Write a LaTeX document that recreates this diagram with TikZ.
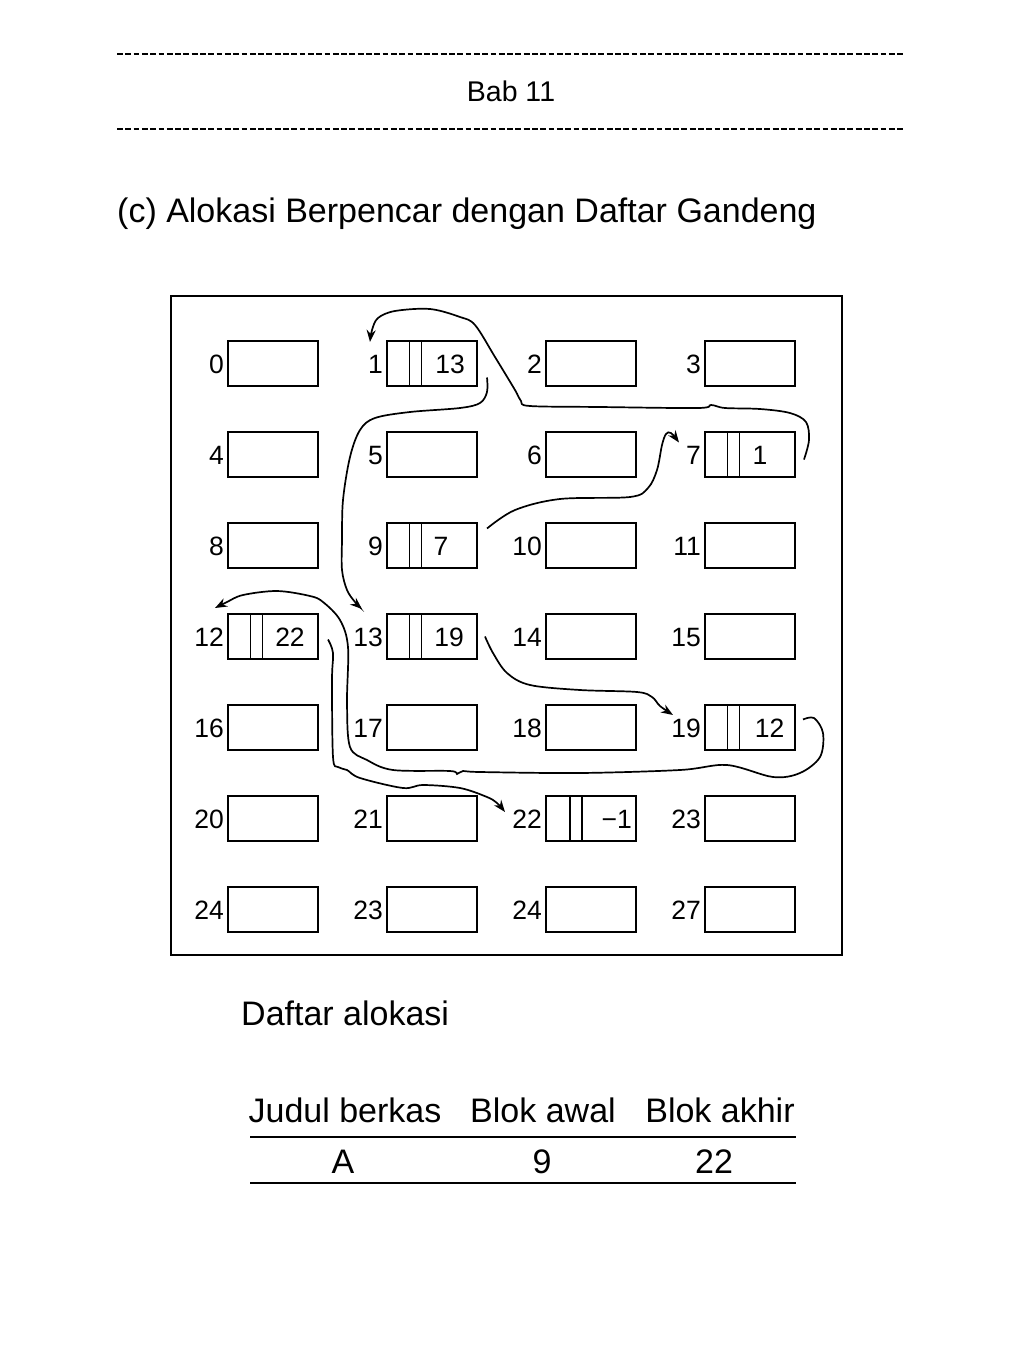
\documentclass[tikz,border=0pt]{standalone}
\usepackage{fontspec}
\setmainfont{Liberation Sans}
\usetikzlibrary{arrows.meta,calc}
\begin{document}
\begin{tikzpicture}[x=1pt,y=-1pt,
  blk/.style={draw,line width=1.2pt,minimum width=90pt,minimum height=45pt,inner sep=0pt,outer sep=0pt},
  num/.style={font=\fontsize{26.5}{30}\selectfont,inner sep=0pt,anchor=east,text height=19pt,text depth=0pt},
  val/.style={font=\fontsize{26.5}{30}\selectfont,inner sep=0pt,text height=19pt,text depth=0pt},
  divider/.style={line width=1.2pt},
  link/.style={line width=1.7pt,-{Stealth[length=12pt,width=9pt]}},
  rulebar/.style={line width=2.8pt,dash pattern=on 5.8pt off 2.5pt},
  tab/.style={font=\fontsize{34}{40}\selectfont,inner sep=0pt,anchor=base},
  hline/.style={line width=1.3pt}]
\useasboundingbox (0,0) rectangle (1024,1365);

% header
\draw[rulebar] (117,54) -- (904,54);
\node[anchor=base,font=\fontsize{28.5}{34}\selectfont,inner sep=0pt] (bab) at (511,101) {Bab 11};
\draw[rulebar] (117,129) -- (904,129);
\node[anchor=base west,font=\fontsize{34}{40}\selectfont,inner sep=0pt] (title) at (117,222) {(c) Alokasi Berpencar dengan Daftar Gandeng};

% frame
\draw[line width=1.2pt] (171,296) rectangle (842,955);

% blocks
\foreach \lab [count=\i from 0] in {0,1,2,3,4,5,6,7,8,9,10,11,12,13,14,15,16,17,18,19,20,21,22,23,24,23,24,27} {
  \pgfmathtruncatemacro\r{\i/4}
  \pgfmathtruncatemacro\c{mod(\i,4)}
  \node[blk] (b\i) at (273+159*\c, 363.5+91*\r) {};
  \node[num] (n\i) at ([xshift=-4pt]b\i.west) {\lab};
}

% split blocks with pointer
\foreach \i/\v/\off in {1/13/63,7/1/55,9/7/54,12/22/62,13/19/62,19/12/64.5} {
  \draw[divider] ([xshift=22.5pt]b\i.north west) -- ([xshift=22.5pt]b\i.south west);
  \draw[divider] ([xshift=34.5pt]b\i.north west) -- ([xshift=34.5pt]b\i.south west);
  \node[val] (v\i) at ([xshift=\off pt]b\i.west) {\v};
}
\draw[divider] ([xshift=24pt]b22.north west) -- ([xshift=24pt]b22.south west);
\draw[divider] ([xshift=36pt]b22.north west) -- ([xshift=36pt]b22.south west);
\node[val,anchor=east] (v22) at ([xshift=-4pt]b22.east) {−1};

% links
% 9 -> 7
\draw[link] plot[smooth,tension=0.55] coordinates {([shift={(10,-17)}]b9.east) (515,510) (560,499) (630,497) (648,488) (657,470) (662,445) (666,434) (671,433) ([shift={(-26,-12)}]b7.west)};
% 7 -> 1
\draw[link] plot[smooth,tension=0.55] coordinates {([shift={(9,5)}]b7.east) (809,440) (806,422) (790,413) (760,409) (725,408) (711,405) (698,408) (600,407) (530,406) (521,401) (515,390) (495,357) (475,325) (460,317) (430,309) (395,311) (378,318) (372,330) ([shift={(-17,1)}]b1.north west)};
% 1 -> 13
\draw[link] plot[smooth,tension=0.55] coordinates {([shift={(10,14)}]b1.east) (487,392) (480,403) (460,408) (410,412) (375,418) (360,430) (350,457) (343,500) (342,540) (342,570) (347,590) (355,602) ([shift={(-25,-5)}]b13.north west)};
% 13 -> 19
\draw[link] plot[smooth,tension=0.55] coordinates {([shift={(8,0)}]b13.east) (493,653) (507,673) (530,685) (580,690) (637,692) (652,697) (660,706) ([shift={(-32,-12.5)}]b19.west)};
% 19 -> 12
\draw[link] plot[smooth,tension=0.55] coordinates {([shift={(8,-8)}]b19.east) (814,718) (823,733) (820,757) (800,773) (773,777) (727,765) (680,770) (580,773) (480,772) (463,771) (457,774) (450,771) (393,770) (367,760) (350,747) (347,703) (348,647) (340,620) (323,602) (310,596) (277,591) (243,595) (227,602) ([shift={(-13,-6)}]b12.north west)};
% 12 -> 22
\draw[link] plot[smooth,tension=0.55] coordinates {([shift={(10,3)}]b12.east) (333,653) (332,680) (333,757) (338,767) (347,770) (360,778) (403,788) (423,785) (460,788) (487,797) (497,803) ([shift={(-41,-6.5)}]b22.west)};

% allocation table
\node[tab,anchor=base west] (daftar) at (241,1025) {Daftar alokasi};
\node[tab] (h1) at (345,1122) {Judul berkas};
\node[tab] (h2) at (543,1122) {Blok awal};
\node[tab] (h3) at (720,1122) {Blok akhir};
\draw[hline] (250,1137) -- (796,1137);
\node[tab] (c1) at (343,1173) {A};
\node[tab] (c2) at (542,1173) {9};
\node[tab] (c3) at (714,1173) {22};
\draw[hline] (250,1183) -- (796,1183);
\end{tikzpicture}
\end{document}
